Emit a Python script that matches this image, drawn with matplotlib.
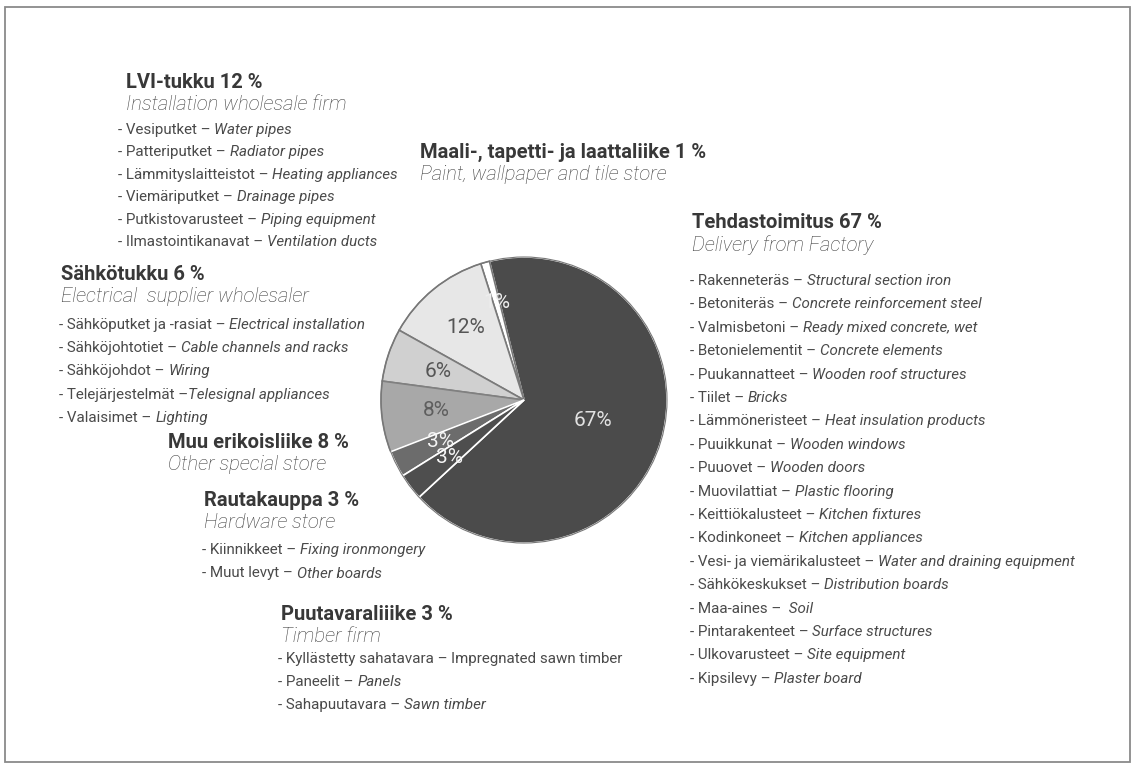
import numpy as np
import matplotlib.pyplot as plt
from matplotlib.patches import Rectangle, Circle

W, H = 1136, 764

# pie shares, counter-clockwise from the factory slice
shares = [67, 1, 12, 6, 8, 3, 3]
wedge_colors = ["#4b4b4b", "#ffffff", "#e7e7e7", "#d0d0d0", "#a8a8a8", "#6c6c6c", "#4e4e4e"]
edge_colors = ["#ffffff", "#777777", "#7a7a7a", "#7a7a7a", "#808080", "#ffffff", "#ffffff"]
label_colors = ["#e2e2e2", "#eeeeee", "#555555", "#555555", "#5e5e5e", "#f4f4f4", "#f4f4f4"]
label_radius = [0.50, 0.71, 0.65, 0.63, 0.62, 0.65, 0.66]

# channel names and product lists
names_fi = ["Tehdastoimitus", "Maali-, tapetti- ja laattaliike", "LVI-tukku",
            "Sähkötukku", "Muu erikoisliike", "Rautakauppa", "Puutavaraliiike"]
names_en = ["Delivery from Factory", "Paint, wallpaper and tile store",
            "Installation wholesale firm", "Electrical  supplier wholesaler",
            "Other special store", "Hardware store", "Timber firm"]

factory_items = [
    ("Rakenneteräs", "Structural section iron"),
    ("Betoniteräs", "Concrete reinforcement steel"),
    ("Valmisbetoni", "Ready mixed concrete, wet"),
    ("Betonielementit", "Concrete elements"),
    ("Puukannatteet", "Wooden roof structures"),
    ("Tiilet", "Bricks"),
    ("Lämmöneristeet", "Heat insulation products"),
    ("Puuikkunat", "Wooden windows"),
    ("Puuovet", "Wooden doors"),
    ("Muovilattiat", "Plastic flooring"),
    ("Keittiökalusteet", "Kitchen fixtures"),
    ("Kodinkoneet", "Kitchen appliances"),
    ("Vesi- ja viemärikalusteet", "Water and draining equipment"),
    ("Sähkökeskukset", "Distribution boards"),
    ("Maa-aines", " Soil"),
    ("Pintarakenteet", "Surface structures"),
    ("Ulkovarusteet", "Site equipment"),
    ("Kipsilevy", "Plaster board"),
]
paint_items = []
hvac_items = [
    ("Vesiputket", "Water pipes"),
    ("Patteriputket", "Radiator pipes"),
    ("Lämmityslaitteistot", "Heating appliances"),
    ("Viemäriputket", "Drainage pipes"),
    ("Putkistovarusteet", "Piping equipment"),
    ("Ilmastointikanavat", "Ventilation ducts"),
]
electric_items = [
    ("Sähköputket ja -rasiat", "Electrical installation"),
    ("Sähköjohtotiet", "Cable channels and racks"),
    ("Sähköjohdot", "Wiring"),
    ("Telejärjestelmät", "Telesignal appliances"),
    ("Valaisimet", "Lighting"),
]
special_items = []
hardware_items = [
    ("Kiinnikkeet", "Fixing ironmongery"),
    ("Muut levyt", "Other boards"),
]
timber_items = [
    ("Kyllästetty sahatavara", "Impregnated sawn timber"),
    ("Paneelit", "Panels"),
    ("Sahapuutavara", "Sawn timber"),
]
item_lists = [factory_items, paint_items, hvac_items, electric_items,
              special_items, hardware_items, timber_items]

# text block layout in pixels from the top-left corner:
# header x, header y, bullet x, first bullet y, bullet step
blocks = [
    (692, 223, 690, 280, 23.4),
    (420, 152, 0, 0, 0),
    (126, 82, 118, 129, 22.4),
    (61, 274, 59, 324, 23.2),
    (168, 442, 0, 0, 0),
    (204, 500, 202, 549, 23.5),
    (281, 614, 278, 658, 22.8),
]
sub_gap = 22
HEAD_SIZE, SUB_SIZE, ITEM_SIZE = 14.5, 14.6, 10.9

plt.rcParams["font.family"] = ["Roboto", "DejaVu Sans"]

fig = plt.figure(figsize=(W / 100, H / 100), dpi=100)
ax = fig.add_axes([0, 0, 1, 1])

ax.add_patch(Rectangle((5, 2), 1125, H - 9, fill=False, ec="#8a8a8a", lw=1.3))

cx, cy, R = 524, H - 400, 143
wedges, _ = ax.pie(shares, colors=wedge_colors, startangle=-137.2, counterclock=True,
                   center=(cx, cy), radius=R, frame=True,
                   wedgeprops=dict(linewidth=1.2))
for w, ec in zip(wedges, edge_colors):
    w.set_edgecolor(ec)
ax.add_patch(Circle((cx, cy), R, fill=False, ec="#777777", lw=0.8))
ax.set_xlim(0, W)
ax.set_ylim(0, H)
ax.set_aspect("equal")
ax.axis("off")

# percentage labels inside the wedges
for w, v, frac, col in zip(wedges, shares, label_radius, label_colors):
    ang = np.deg2rad((w.theta1 + w.theta2) / 2)
    ax.text(cx + frac * R * np.cos(ang), cy + frac * R * np.sin(ang), f"{v}%",
            ha="center", va="center", fontsize=15, color=col)

renderer = fig.canvas.get_renderer()
inv = ax.transData.inverted()


def text_width(t):
    bb = t.get_window_extent(renderer=renderer)
    return inv.transform((bb.x1, 0))[0] - inv.transform((bb.x0, 0))[0]


probe = ax.text(0, 0, "a a", fontsize=ITEM_SIZE)
probe2 = ax.text(0, 0, "aa", fontsize=ITEM_SIZE)
space_w = text_width(probe) - text_width(probe2)
probe.remove()
probe2.remove()

for i, (fi, en, items) in enumerate(zip(names_fi, names_en, item_lists)):
    hx, hy, bx, by, step = blocks[i]
    ax.text(hx, H - hy, f"{fi} {shares[i]} %", fontsize=HEAD_SIZE, fontweight="bold",
            color="#383838", va="center")
    ax.text(hx, H - hy - sub_gap, en, fontsize=SUB_SIZE, style="italic",
            fontweight="light", color="#3c3c3c", va="center")
    for k, (a, b) in enumerate(items):
        y = H - (by + k * step) - 5
        t1 = ax.text(bx, y, f"- {a} –", fontsize=ITEM_SIZE, color="#4a4a4a", va="baseline")
        # no space after the dash on the telesignal line
        gap = 0 if a == "Telejärjestelmät" else space_w
        x2 = bx + text_width(t1) + gap
        st = "normal" if a == "Kyllästetty sahatavara" else "italic"
        ax.text(x2, y, b, fontsize=ITEM_SIZE, color="#4a4a4a", style=st, va="baseline")

fig.savefig("out.png", dpi=100, facecolor="white")
